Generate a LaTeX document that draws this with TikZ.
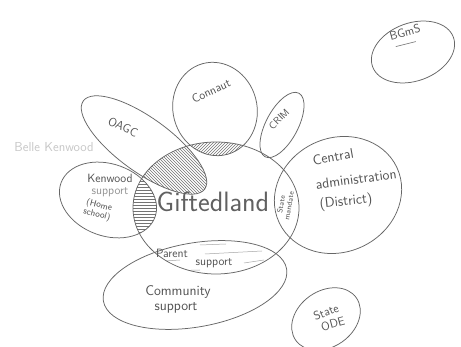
\documentclass[tikz,border=0pt]{standalone}
\usetikzlibrary{patterns}
\begin{document}
\begin{tikzpicture}[x=1pt,y=1pt,
  pencil/.style={draw=black!60, line width=0.75pt},
  lbl/.style={text=black!68, font=\sffamily\fontsize{12}{13}\selectfont, align=center, inner sep=0pt},
  biglbl/.style={lbl, font=\sffamily\fontsize{14}{15}\selectfont},
  smalllbl/.style={lbl, font=\sffamily\fontsize{9}{9.5}\selectfont},
  faint/.style={text=black!22, font=\sffamily\fontsize{13}{14}\selectfont, inner sep=0pt},
  hatch/.style={pattern color=black!55},
]
\useasboundingbox (0,0) rectangle (461,347);
\fill[white] (0,0) rectangle (461,347);

% --- hatched overlaps with the Giftedland circle ---
\begin{scope}
  \clip (216,139) ellipse [x radius=83, y radius=66];
  % OAGC overlap
  \fill[hatch, pattern=north west lines, rotate around={-36:(144,202)}]
    (144,202) ellipse [x radius=75, y radius=27];
  % Kenwood overlap
  \fill[hatch, pattern=horizontal lines, rotate around={-20:(108,147)}]
    (108,147) ellipse [x radius=50, y radius=36];
  % Connaut overlap
  \fill[hatch, pattern=north east lines, rotate around={15:(215,238)}]
    (215,238) ellipse [x radius=42, y radius=47];
  % CRIM touching point
  \fill[black!70, rotate around={-20:(270,194)}]
    (270,194) ellipse [x radius=8, y radius=2.5];
  % Parent support strokes
  \begin{scope}
    \clip[rotate around={10:(195,62)}] (195,62) ellipse [x radius=93, y radius=42];
    \draw[black!35, line width=0.5pt]
      (128,98) -- (150,99)  (200,102) -- (226,103)
      (205,93) -- (262,96)  (150,85) -- (180,87)
      (244,84) -- (264,87)  (165,76) -- (200,77);
  \end{scope}
\end{scope}

% --- outlines ---
\draw[pencil] (216,139) ellipse [x radius=83, y radius=66];
\draw[pencil, rotate around={-36:(144,202)}] (144,202) ellipse [x radius=75, y radius=27];
\draw[pencil, rotate around={15:(215,238)}] (215,238) ellipse [x radius=42, y radius=47];
\draw[pencil, rotate around={62:(282,222)}] (282,222) ellipse [x radius=36, y radius=16];
\draw[pencil, rotate around={25:(338,152)}] (338,152) ellipse [x radius=65, y radius=57];
\draw[pencil, rotate around={-20:(108,147)}] (108,147) ellipse [x radius=50, y radius=36];
\draw[pencil, rotate around={10:(195,62)}] (195,62) ellipse [x radius=93, y radius=42];
\draw[pencil, rotate around={35:(326,28)}] (326,28) ellipse [x radius=37, y radius=28];
\draw[pencil, rotate around={20:(413,295)}] (413,295) ellipse [x radius=43, y radius=29];

% --- labels ---
\node[faint] (belle) at (54,200) {Belle Kenwood};
\node[lbl, rotate=-25] (oagc) at (123,220) {OAGC};
\node[lbl, rotate=25] (connaut) at (211,256) {Connaut};
\node[lbl, font=\sffamily\fontsize{10}{11}\selectfont, rotate=45] (crim) at (279,228) {CRIM};
\node[biglbl, rotate=10] (central) at (333,190) {Central};
\node[biglbl, rotate=8] (admin) at (356,168) {administration};
\node[biglbl, rotate=6] (district) at (346,145) {(District)};
\node[lbl, font=\sffamily\fontsize{28}{30}\selectfont, text=black!62] (gifted) at (213,145) {Giftedland};
\node[smalllbl, font=\sffamily\fontsize{7.5}{8}\selectfont, rotate=80] (mandate) at (285,142) {State\\mandate};
\node[lbl] (kenwood) at (110,169) {Kenwood};
\node[lbl, text=black!42] (ksupport) at (110,155) {support};
\node[smalllbl, rotate=-15] (home) at (98,137) {(Home\\school)};
\node[lbl] (parent) at (172,94) {Parent};
\node[lbl] (psupport) at (214,84) {support};
\node[biglbl] (community) at (178,55) {Community};
\node[biglbl] (csupport) at (176,39) {support};
\node[lbl, rotate=20] (state) at (326,35) {State};
\node[lbl, rotate=15] (ode) at (333,23) {ODE};
\node[lbl, rotate=15] (bgms) at (405,315) {BGmS};
\draw[black!55, line width=0.6pt] (bgms.south west) ++(5,-6) -- ++(20,5);
\end{tikzpicture}
\end{document}
